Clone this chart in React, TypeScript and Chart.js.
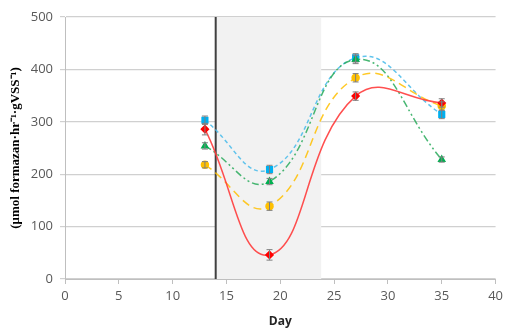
import React, { useEffect, useRef } from "react";
import { Chart, registerables } from "chart.js";

Chart.register(...registerables);

const days = [13, 19, 27, 35];
const redVals = [286, 46, 349, 336];
const redErr = [11, 10, 8, 8];
const yellowVals = [218, 139, 384, 330];
const yellowErr = [6, 8, 8, 8];
const greenVals = [254, 186, 419, 228];
const greenErr = [6, 6, 8, 5];
const blueVals = [303, 209, 422, 314];
const blueErr = [8, 8, 8, 8];
const shadeStart = 14;
const shadeEnd = 23.8;
const xTicks = [0, 5, 10, 15, 20, 25, 30, 35, 40];
const yTicks = [0, 100, 200, 300, 400, 500];

const toPts = (vals: number[]) => days.map((d, i) => ({ x: d, y: vals[i] }));

const errMap: Record<string, number[]> = {
  red: redErr,
  yellow: yellowErr,
  green: greenErr,
  blue: blueErr,
};

const shadePlugin = {
  id: "shade",
  beforeDatasetsDraw(chart: any) {
    const { ctx, chartArea, scales } = chart;
    const x1 = scales.x.getPixelForValue(shadeStart);
    const x2 = scales.x.getPixelForValue(shadeEnd);
    ctx.save();
    ctx.fillStyle = "#F2F2F2";
    ctx.fillRect(x1, chartArea.top, x2 - x1, chartArea.bottom - chartArea.top);
    ctx.strokeStyle = "#404040";
    ctx.lineWidth = 2;
    ctx.beginPath();
    ctx.moveTo(x1, chartArea.top);
    ctx.lineTo(x1, chartArea.bottom);
    ctx.stroke();
    ctx.restore();
  },
};

const errPlugin = {
  id: "errbars",
  afterDatasetsDraw(chart: any) {
    const { ctx, scales } = chart;
    ctx.save();
    ctx.strokeStyle = "#7F7F7F";
    ctx.lineWidth = 1;
    chart.data.datasets.forEach((ds: any) => {
      const errs = errMap[ds.key];
      ds.data.forEach((p: any, i: number) => {
        const x = scales.x.getPixelForValue(p.x);
        const yT = scales.y.getPixelForValue(p.y + errs[i]);
        const yB = scales.y.getPixelForValue(p.y - errs[i]);
        ctx.beginPath();
        ctx.moveTo(x, yT);
        ctx.lineTo(x, yB);
        ctx.moveTo(x - 3, yT);
        ctx.lineTo(x + 3, yT);
        ctx.moveTo(x - 3, yB);
        ctx.lineTo(x + 3, yB);
        ctx.stroke();
      });
    });
    ctx.restore();
  },
};

export default function App() {
  const ref = useRef<HTMLCanvasElement>(null);
  useEffect(() => {
    if (!ref.current) return;
    const tickFont = { family: "'Open Sans', sans-serif", size: 13 };
    const chart = new Chart(ref.current, {
      type: "line",
      data: {
        datasets: [
          {
            key: "red",
            data: toPts(redVals),
            borderColor: "rgba(255,60,60,0.9)",
            borderWidth: 1.5,
            pointStyle: "rectRot",
            pointRadius: 3.5,
            pointBackgroundColor: "#FF0000",
            pointBorderColor: "#FF0000",
            tension: 0.45,
          },
          {
            key: "yellow",
            data: toPts(yellowVals),
            borderColor: "rgba(255,192,0,0.85)",
            borderWidth: 1.5,
            borderDash: [8, 5],
            pointStyle: "circle",
            pointRadius: 3.5,
            pointBackgroundColor: "#FFC000",
            pointBorderColor: "#FFC000",
            tension: 0.45,
          },
          {
            key: "green",
            data: toPts(greenVals),
            borderColor: "rgba(40,170,90,0.85)",
            borderWidth: 1.5,
            borderDash: [7, 3, 2, 3, 2, 3],
            pointStyle: "triangle",
            pointRadius: 3.5,
            pointBackgroundColor: "#00B050",
            pointBorderColor: "#00B050",
            tension: 0.45,
          },
          {
            key: "blue",
            data: toPts(blueVals),
            borderColor: "rgba(80,190,235,0.9)",
            borderWidth: 1.5,
            borderDash: [4, 3],
            pointStyle: "rect",
            pointRadius: 4,
            pointBackgroundColor: "#00B0F0",
            pointBorderColor: "#00B0F0",
            tension: 0.45,
          },
        ] as any,
      },
      options: {
        animation: false,
        responsive: false,
        layout: { padding: { left: 8, top: 17, right: 11, bottom: 0 } },
        plugins: { legend: { display: false }, tooltip: { enabled: false } },
        scales: {
          x: {
            type: "linear",
            min: 0,
            max: 40,
            afterBuildTicks: (axis: any) => {
              axis.ticks = xTicks.map((v) => ({ value: v }));
            },
            afterFit: (axis: any) => {
              axis.height = 50;
            },
            grid: { drawOnChartArea: false, drawTicks: true, tickLength: 5, color: "#BFBFBF" },
            border: { display: true, color: "#BFBFBF" },
            ticks: { color: "#595959", font: tickFont, padding: 4, maxRotation: 0 },
            title: {
              display: true,
              text: "Day",
              color: "#262626",
              font: { family: "'Open Sans', sans-serif", size: 12, weight: "bold" },
              padding: { top: 0, bottom: 0 },
            },
          },
          y: {
            type: "linear",
            min: 0,
            max: 500,
            afterBuildTicks: (axis: any) => {
              axis.ticks = yTicks.map((v) => ({ value: v }));
            },
            afterFit: (axis: any) => {
              axis.width = 57;
            },
            grid: { color: "#D0D0D0", lineWidth: 1.2, tickLength: 5 },
            border: { display: true, color: "#BFBFBF" },
            ticks: { color: "#595959", font: tickFont, padding: 7 },
            title: {
              display: true,
              text: "(μmol formazan·hr⁻¹·gVSS⁻¹)",
              color: "#000000",
              font: { family: "'Liberation Serif', serif", size: 13, weight: "bold" },
              padding: { top: 0, bottom: 0 },
            },
          },
        },
      },
      plugins: [shadePlugin, errPlugin],
    });
    return () => chart.destroy();
  }, []);
  return (
    <div style={{ position: "absolute", left: 0, top: 0, width: 507, height: 329, background: "#fff" }}>
      <canvas ref={ref} width={507} height={329} style={{ display: "block" }} />
    </div>
  );
}
